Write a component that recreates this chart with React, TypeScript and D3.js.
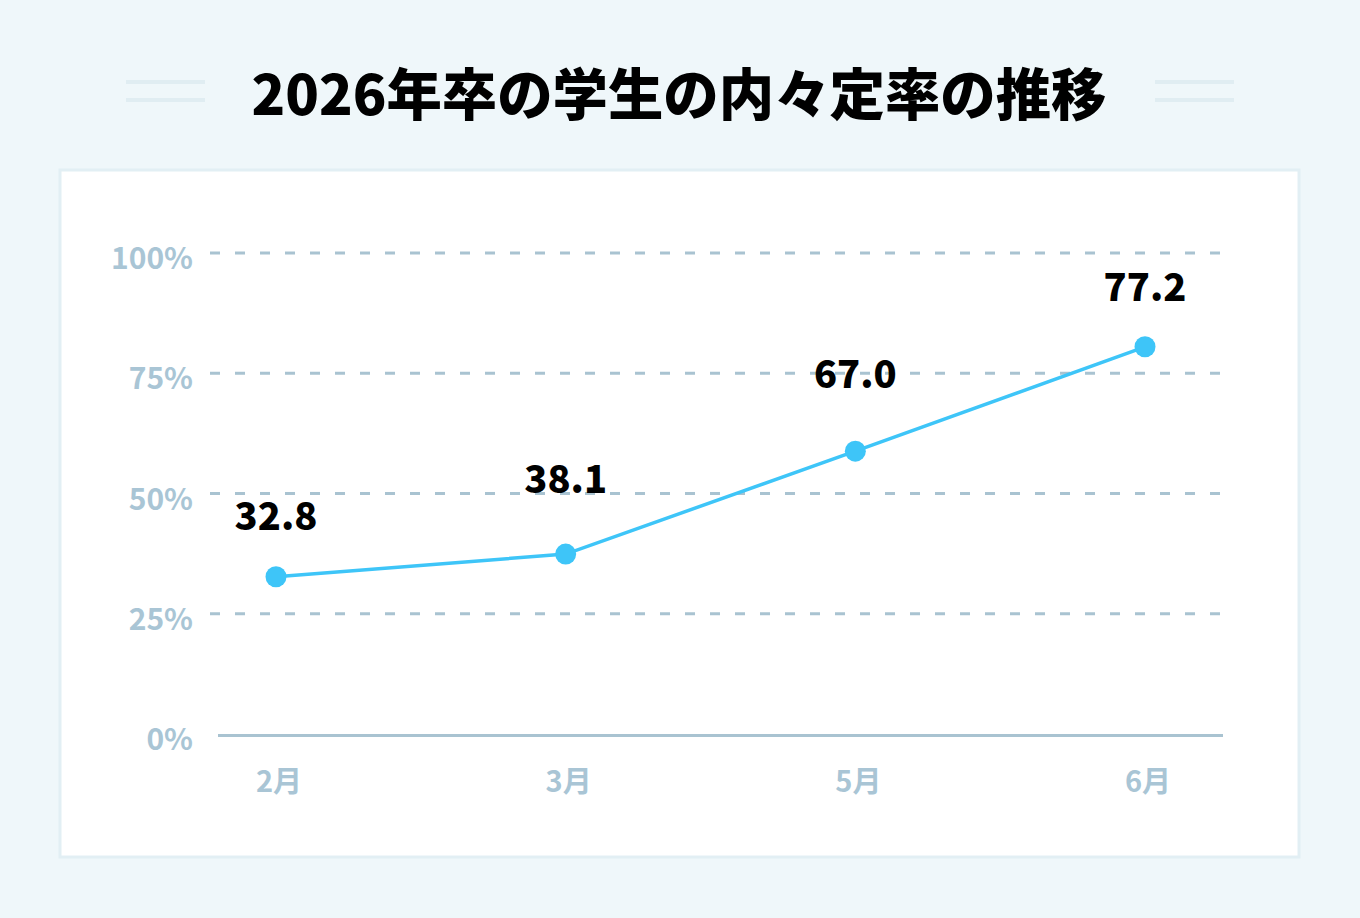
import React from "react";
import * as d3 from "d3";

const TITLE = "2026年卒の学生の内々定率の推移";
const months = ["2月", "3月", "5月", "6月"];
// plotted positions
const plotted = [32.7, 37.4, 58.8, 80.5];
// printed data labels
const labelTexts = ["32.8", "38.1", "67.0", "77.2"];
const yTicks = [0, 25, 50, 75, 100];

const W = 1360;
const H = 918;
const FONT = "'Noto Sans CJK JP', 'Noto Sans', sans-serif";
const labelOffsets = [47, 61, 63, 46];

export default function App() {
  const x = d3.scalePoint<string>().domain(months).range([276, 1145]);
  const y = d3.scaleLinear().domain([0, 100]).range([734, 253]);
  const line = d3
    .line<number>()
    .x((_, i) => x(months[i]) as number)
    .y((d) => y(d));

  return (
    <svg
      width={W}
      height={H}
      style={{ position: "absolute", left: 0, top: 0, display: "block" }}
      fontFamily={FONT}
    >
      <rect x={0} y={0} width={W} height={H} fill="#eff7fa" />
      {[82, 100].map((yy) => (
        <g key={yy}>
          <line x1={126} x2={205} y1={yy} y2={yy} stroke="#e0edf2" strokeWidth={4} />
          <line x1={1155} x2={1234} y1={yy} y2={yy} stroke="#e0edf2" strokeWidth={4} />
        </g>
      ))}
      <text x={679} y={115} textAnchor="middle" fontSize={55.4} fontWeight={900} fill="#000">
        {TITLE}
      </text>
      <rect x={60} y={170} width={1239} height={687} fill="#fff" stroke="#e2eff4" strokeWidth={3} />
      {yTicks.map((t) => (
        <g key={t}>
          {t > 0 && (
            <line
              x1={210}
              x2={1222}
              y1={y(t)}
              y2={y(t)}
              stroke="#a9c3d1"
              strokeWidth={3}
              strokeDasharray="10 15"
            />
          )}
          <text
            x={193}
            y={y(t) + 16}
            textAnchor="end"
            fontSize={30}
            fontWeight={700}
            fill="#a9c5d5"
          >
            {t}%
          </text>
        </g>
      ))}
      <line x1={218} x2={1223} y1={735.5} y2={735.5} stroke="#a9c3d1" strokeWidth={3} />
      {months.map((m) => (
        <text
          key={m}
          x={(x(m) as number) + 3}
          y={792}
          textAnchor="middle"
          fontSize={29}
          fontWeight={700}
          fill="#a9c5d5"
        >
          {m}
        </text>
      ))}
      <path d={line(plotted) || ""} fill="none" stroke="#3ec5f8" strokeWidth={3.5} />
      {plotted.map((v, i) => (
        <circle key={i} cx={x(months[i]) as number} cy={y(v)} r={10.5} fill="#3ec5f8" />
      ))}
      {plotted.map((v, i) => (
        <text
          key={"l" + i}
          x={x(months[i]) as number}
          y={y(v) - labelOffsets[i]}
          textAnchor="middle"
          fontSize={38}
          fontWeight={900}
          fill="#000"
        >
          {labelTexts[i]}
        </text>
      ))}
    </svg>
  );
}
